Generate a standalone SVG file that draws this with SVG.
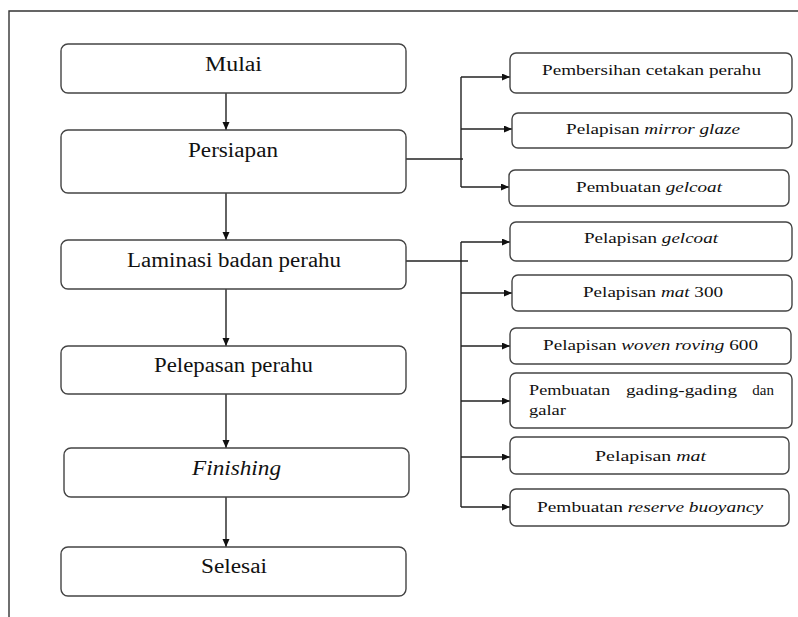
<svg xmlns="http://www.w3.org/2000/svg" width="798" height="617" viewBox="0 0 798 617">
<defs>
<marker id="ah" markerWidth="9" markerHeight="8" refX="8" refY="3.5" orient="auto" markerUnits="userSpaceOnUse">
<path d="M0,0 L8,3.5 L0,7 z" fill="#111"/>
</marker>
<style>
.main{fill:#fff;stroke:#444;stroke-width:1.4}
.sub{fill:#fff;stroke:#444;stroke-width:1.4}
.t1{font-size:20px;fill:#111;text-anchor:middle}
.t2{font-size:15px;fill:#111;text-anchor:middle}
.t3{font-size:15px;fill:#111}
.c{fill:none;stroke:#222;stroke-width:1.4}
.ca{fill:none;stroke:#222;stroke-width:1.4;marker-end:url(#ah)}
</style>
</defs>
<rect width="798" height="617" fill="#fff"/>
<g id="frame">
<path d="M9,617 L9,11 L798,11" fill="none" stroke="#333" stroke-width="1.4"/>
</g>
<g id="connectors">
<line class="ca" x1="226" y1="93" x2="226" y2="130"/>
<line class="ca" x1="226" y1="193" x2="226" y2="240"/>
<line class="ca" x1="226" y1="289" x2="226" y2="346"/>
<line class="ca" x1="226" y1="394" x2="226" y2="448"/>
<line class="ca" x1="226" y1="497" x2="226" y2="547"/>
<line class="c" x1="406" y1="159" x2="463" y2="159"/>
<line class="c" x1="461" y1="77" x2="461" y2="187"/>
<line class="ca" x1="461" y1="77" x2="510" y2="77"/>
<line class="ca" x1="461" y1="129" x2="512" y2="129"/>
<line class="ca" x1="461" y1="187" x2="509" y2="187"/>
<line class="c" x1="406" y1="261" x2="468" y2="261"/>
<line class="c" x1="461" y1="242" x2="461" y2="507"/>
<line class="ca" x1="461" y1="242" x2="510" y2="242"/>
<line class="ca" x1="461" y1="293" x2="512" y2="293"/>
<line class="ca" x1="461" y1="346" x2="510" y2="346"/>
<line class="ca" x1="461" y1="401" x2="510" y2="401"/>
<line class="ca" x1="461" y1="457" x2="510" y2="457"/>
<line class="ca" x1="461" y1="507" x2="510" y2="507"/>
</g>
<g font-family="'Liberation Serif', 'Times New Roman', serif">
<g id="mulai">
<rect class="main" x="61" y="44" width="345" height="49" rx="7"/>
<text class="t1" x="233.5" y="71" textLength="57" lengthAdjust="spacingAndGlyphs">Mulai</text>
</g>
<g id="persiapan">
<rect class="main" x="61" y="130" width="345" height="63" rx="7"/>
<text class="t1" x="233" y="157" textLength="90" lengthAdjust="spacingAndGlyphs">Persiapan</text>
</g>
<g id="laminasi">
<rect class="main" x="61" y="240" width="345" height="49" rx="7"/>
<text class="t1" x="234" y="267" textLength="214" lengthAdjust="spacingAndGlyphs">Laminasi badan perahu</text>
</g>
<g id="pelepasan">
<rect class="main" x="61" y="346" width="345" height="48" rx="7"/>
<text class="t1" x="233.5" y="372" textLength="159" lengthAdjust="spacingAndGlyphs">Pelepasan perahu</text>
</g>
<g id="finishing">
<rect class="main" x="64" y="448" width="345" height="49" rx="7"/>
<text class="t1" x="236.5" y="475" font-style="italic" textLength="89" lengthAdjust="spacingAndGlyphs">Finishing</text>
</g>
<g id="selesai">
<rect class="main" x="61" y="547" width="345" height="49" rx="7"/>
<text class="t1" x="234" y="573" textLength="66" lengthAdjust="spacingAndGlyphs">Selesai</text>
</g>
<g id="pembersihan">
<rect class="sub" x="510" y="53" width="282" height="40" rx="6"/>
<text class="t2" x="651.5" y="75" textLength="219" lengthAdjust="spacingAndGlyphs">Pembersihan cetakan perahu</text>
</g>
<g id="mirror-glaze">
<rect class="sub" x="512" y="113" width="280" height="35" rx="6"/>
<text class="t2" x="653" y="134" textLength="174" lengthAdjust="spacingAndGlyphs">Pelapisan <tspan font-style="italic">mirror glaze</tspan></text>
</g>
<g id="pembuatan-gelcoat">
<rect class="sub" x="509" y="170" width="280" height="36" rx="6"/>
<text class="t2" x="649" y="192" textLength="146" lengthAdjust="spacingAndGlyphs">Pembuatan <tspan font-style="italic">gelcoat</tspan></text>
</g>
<g id="pelapisan-gelcoat">
<rect class="sub" x="510" y="222" width="282" height="39" rx="6"/>
<text class="t2" x="651" y="243" textLength="134" lengthAdjust="spacingAndGlyphs">Pelapisan <tspan font-style="italic">gelcoat</tspan></text>
</g>
<g id="mat300">
<rect class="sub" x="512" y="275" width="280" height="36" rx="6"/>
<text class="t2" x="653" y="297" textLength="140" lengthAdjust="spacingAndGlyphs">Pelapisan <tspan font-style="italic">mat</tspan> 300</text>
</g>
<g id="woven">
<rect class="sub" x="510" y="328" width="281" height="36" rx="6"/>
<text class="t2" x="650.5" y="350" textLength="215" lengthAdjust="spacingAndGlyphs">Pelapisan <tspan font-style="italic">woven roving</tspan> 600</text>
</g>
<g id="gading">
<rect class="sub" x="510" y="373" width="282" height="55" rx="6"/>
<text class="t3" x="529" y="395" textLength="81" lengthAdjust="spacingAndGlyphs">Pembuatan</text>
<text class="t3" x="626" y="395" textLength="111" lengthAdjust="spacingAndGlyphs">gading-gading</text>
<text class="t3" x="774" y="395" text-anchor="end">dan</text>
<text class="t3" x="529" y="415" textLength="37" lengthAdjust="spacingAndGlyphs">galar</text>
</g>
<g id="mat">
<rect class="sub" x="510" y="437" width="279" height="37" rx="6"/>
<text class="t2" x="650.5" y="461" textLength="111" lengthAdjust="spacingAndGlyphs">Pelapisan <tspan font-style="italic">mat</tspan></text>
</g>
<g id="reserve">
<rect class="sub" x="510" y="489" width="279" height="37" rx="6"/>
<text class="t2" x="650" y="512" textLength="226" lengthAdjust="spacingAndGlyphs">Pembuatan <tspan font-style="italic">reserve buoyancy</tspan></text>
</g>
</g>
</svg>
